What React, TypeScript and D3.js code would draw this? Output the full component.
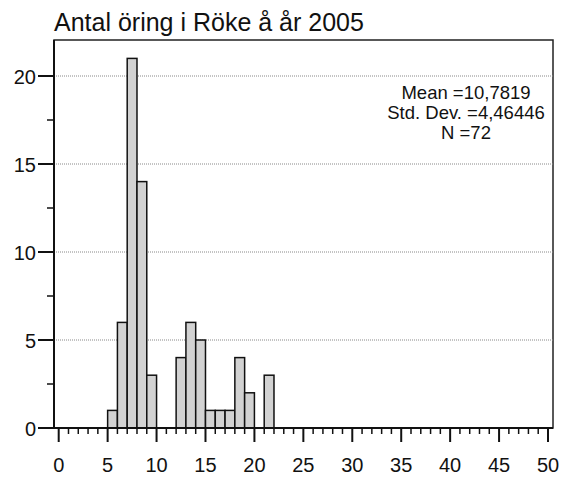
import React, { useEffect, useRef } from 'react';
import * as d3 from 'd3';

// histogram bins (lower edge, width 1) and counts
const binStarts = [5, 6, 7, 8, 9, 10, 11, 12, 13, 14, 15, 16, 17, 18, 19, 20, 21];
const counts = [1, 6, 21, 14, 3, 0, 0, 4, 6, 5, 1, 1, 1, 4, 2, 0, 3];

const xTicks = [0, 5, 10, 15, 20, 25, 30, 35, 40, 45, 50];
const yTicks = [0, 5, 10, 15, 20];
const statLines = ['Mean =10,7819', 'Std. Dev. =4,46446', 'N =72'];
const title = 'Antal öring i Röke å år 2005';

const FONT = '"Liberation Sans", Arial, sans-serif';

const App = () => {
  const ref = useRef<SVGSVGElement>(null);

  useEffect(() => {
    const svg = d3.select(ref.current);
    svg.selectAll('*').remove();

    const frame = { left: 54, right: 553, top: 40, bottom: 428 };

    const x = d3.scaleLinear().domain([0, 50]).range([58.7, 548]);
    const y = d3.scaleLinear().domain([0, 20]).range([428, 76]);

    // frame
    svg.append('rect')
      .attr('x', frame.left)
      .attr('y', frame.top)
      .attr('width', frame.right - frame.left)
      .attr('height', frame.bottom - frame.top)
      .attr('fill', 'white')
      .attr('stroke', '#222')
      .attr('stroke-width', 1.5);

    // dotted gridlines
    svg.append('g').selectAll('line')
      .data(yTicks.filter(d => d > 0))
      .enter()
      .append('line')
      .attr('x1', frame.left)
      .attr('x2', frame.right)
      .attr('y1', d => y(d))
      .attr('y2', d => y(d))
      .attr('stroke', '#888')
      .attr('stroke-width', 1)
      .attr('stroke-dasharray', '1,1');

    // bars
    svg.append('g').selectAll('rect')
      .data(binStarts.map((b, i) => ({ b, c: counts[i] })).filter(d => d.c > 0))
      .enter()
      .append('rect')
      .attr('x', d => x(d.b))
      .attr('y', d => y(d.c))
      .attr('width', d => x(d.b + 1) - x(d.b))
      .attr('height', d => y(0) - y(d.c))
      .attr('fill', '#d2d2d2')
      .attr('stroke', '#111')
      .attr('stroke-width', 1.5);

    // x axis line
    svg.append('line')
      .attr('x1', frame.left).attr('x2', frame.right)
      .attr('y1', frame.bottom).attr('y2', frame.bottom)
      .attr('stroke', '#111').attr('stroke-width', 2);

    // y axis line
    svg.append('line')
      .attr('x1', frame.left).attr('x2', frame.left)
      .attr('y1', frame.top).attr('y2', frame.bottom)
      .attr('stroke', '#111').attr('stroke-width', 2);

    // x ticks: minor every 1, major every 5
    svg.append('g').selectAll('line')
      .data(d3.range(0, 51))
      .enter()
      .append('line')
      .attr('x1', d => x(d))
      .attr('x2', d => x(d))
      .attr('y1', frame.bottom)
      .attr('y2', d => frame.bottom + (d % 5 === 0 ? 14 : 6))
      .attr('stroke', '#111')
      .attr('stroke-width', d => (d % 5 === 0 ? 2 : 1.5));

    svg.append('g').selectAll('text')
      .data(xTicks)
      .enter()
      .append('text')
      .attr('x', d => x(d))
      .attr('y', 472)
      .attr('text-anchor', 'middle')
      .attr('font-family', FONT)
      .attr('font-size', 20)
      .attr('fill', '#111')
      .text(d => d);

    // y ticks: major every 5, minor at 2.5
    svg.append('g').selectAll('line')
      .data(d3.range(0, 21, 2.5))
      .enter()
      .append('line')
      .attr('x1', d => frame.left - (d % 5 === 0 ? 16 : 7))
      .attr('x2', frame.left)
      .attr('y1', d => y(d))
      .attr('y2', d => y(d))
      .attr('stroke', '#111')
      .attr('stroke-width', d => (d % 5 === 0 ? 2 : 1.5));

    svg.append('g').selectAll('text')
      .data(yTicks)
      .enter()
      .append('text')
      .attr('x', 36)
      .attr('y', d => y(d) + 7.5)
      .attr('text-anchor', 'end')
      .attr('font-family', FONT)
      .attr('font-size', 20)
      .attr('fill', '#111')
      .text(d => d);

    // stats box
    svg.append('g').selectAll('text')
      .data(statLines)
      .enter()
      .append('text')
      .attr('x', 466)
      .attr('y', (d, i) => 99 + i * 20)
      .attr('text-anchor', 'middle')
      .attr('font-family', FONT)
      .attr('font-size', 18.5)
      .attr('fill', '#111')
      .text(d => d);

    // title
    svg.append('text')
      .attr('x', 54)
      .attr('y', 31)
      .attr('font-family', FONT)
      .attr('font-size', 25)
      .attr('fill', '#111')
      .text(title);
  }, []);

  return (
    <svg
      ref={ref}
      width={563}
      height={477}
      style={{ position: 'absolute', left: 0, top: 0, background: 'white' }}
    ></svg>
  );
};

export default App;
